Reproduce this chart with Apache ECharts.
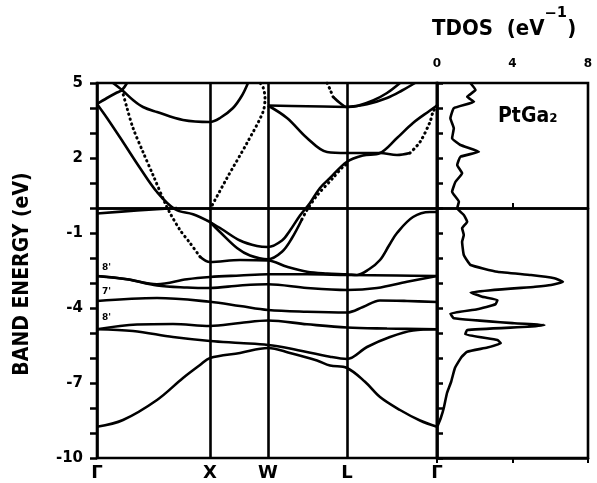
<!DOCTYPE html>
<html><head><meta charset="utf-8">
<script src="https://cdn.jsdelivr.net/npm/echarts@6/dist/echarts.min.js"></script>
<style>html,body{margin:0;padding:0;background:#fff}#c{width:597px;height:483px}</style>
</head><body><div id="c"></div>
<script>
// k-path positions and labels
const kPos = [0, 1.13, 1.71, 2.50, 3.40];
const kLabels = ['Γ', 'X', 'W', 'L', 'Γ'];
const eTicksLabeled = [-10, -7, -4, -1, 2, 5];
const dosTicks = [0, 4, 8];

// band segments [k, E(eV)]
const band1 = [[0,-8.75],[0.26,-8.48],[0.60,-7.68],[0.86,-6.8],[1.03,-6.28],[1.13,-6.0],[1.43,-5.8],[1.71,-5.6],[1.93,-5.8],[2.2,-6.1],[2.33,-6.3],[2.5,-6.4],[2.68,-6.95],[2.83,-7.56],[3.03,-8.08],[3.23,-8.5],[3.4,-8.75]];
const band2 = [[0,-4.85],[0.36,-4.92],[0.76,-5.16],[1.13,-5.32],[1.43,-5.4],[1.71,-5.48],[1.93,-5.62],[2.33,-5.95],[2.5,-6.04],[2.7,-5.56],[2.93,-5.16],[3.16,-4.9],[3.4,-4.85]];
const band3 = [[0,-4.85],[0.4,-4.66],[0.76,-4.64],[1.13,-4.72],[1.43,-4.6],[1.71,-4.5],[2.1,-4.65],[2.5,-4.78],[2.9,-4.82],[3.4,-4.85]];
const band4 = [[0,-3.72],[0.6,-3.6],[1.13,-3.75],[1.43,-3.92],[1.71,-4.08],[2.1,-4.15],[2.5,-4.18],[2.66,-3.96],[2.83,-3.7],[3.1,-3.72],[3.4,-3.76]];
const band5 = [[0,-2.72],[0.3,-2.85],[0.6,-3.1],[0.9,-3.18],[1.13,-3.2],[1.43,-3.1],[1.71,-3.05],[2.1,-3.2],[2.5,-3.28],[2.8,-3.2],[3.1,-2.95],[3.4,-2.72]];
const band6 = [[0,-2.72],[0.3,-2.85],[0.6,-3.05],[0.9,-2.85],[1.13,-2.76],[1.43,-2.7],[1.71,-2.65],[2.1,-2.65],[2.5,-2.68],[3.0,-2.7],[3.4,-2.72]];
const bandC = [[1.03,-1.95],[1.13,-2.16],[1.43,-2.08],[1.71,-2.1],[1.9,-2.35],[2.1,-2.55],[2.3,-2.62],[2.5,-2.65],[2.6,-2.68],[2.72,-2.45],[2.83,-2.08],[2.92,-1.5],[3.0,-1.0],[3.16,-0.36],[3.33,-0.16],[3.4,-0.16]];
const bandU1 = [[1.13,-0.56],[1.25,-0.85],[1.43,-1.3],[1.6,-1.52],[1.71,-1.56],[1.85,-1.3],[1.93,-0.9],[2.03,-0.3],[2.13,0.2],[2.23,0.8],[2.33,1.2],[2.5,1.85],[2.66,2.1],[2.83,2.2],[3.0,2.8],[3.16,3.4],[3.33,3.9],[3.4,4.1]];
const bandU2 = [[1.13,-0.56],[1.23,-0.96],[1.4,-1.6],[1.53,-1.9],[1.71,-2.05],[1.85,-1.75],[1.95,-1.2],[2.05,-0.45]];
const bandU2dot = [[2.05,-0.45],[2.1,-0.08],[2.2,0.5],[2.36,1.2],[2.46,1.65],[2.5,1.75]];
const bandMain = [[0,4.16],[0.1,3.6],[0.26,2.64],[0.43,1.6],[0.6,0.64],[0.78,-0.05],[0.96,-0.25],[1.13,-0.56]];
const bandG0 = [[0,-0.22],[0.4,-0.1],[0.8,0.0]];
const bandD1 = [[0.25,4.72],[0.3,4.0],[0.36,3.2],[0.46,2.24],[0.56,1.32],[0.68,0.2],[0.73,-0.2],[0.83,-0.88],[0.93,-1.4],[1.03,-1.95]];
const bandT1 = [[0,4.16],[0.1,4.4],[0.2,4.62],[0.25,4.72],[0.3,5.0]];
const bandT2 = [[0.16,5.0],[0.25,4.72],[0.36,4.32],[0.46,4.04],[0.6,3.84],[0.86,3.52],[1.13,3.44],[1.23,3.6],[1.36,4.0],[1.45,4.5],[1.51,5.0]];
const bandD2 = [[1.13,-0.05],[1.3,1.2],[1.5,2.6],[1.66,3.84],[1.68,4.4],[1.66,4.84],[1.63,5.0]];
const bandWtop = [[1.71,4.1],[2.1,4.07],[2.5,4.04]];
const bandWdesc = [[1.71,4.1],[1.9,3.6],[2.1,2.8],[2.3,2.24],[2.5,2.2],[2.83,2.2],[3.0,2.12],[3.13,2.2]];
const bandWdescDot = [[3.13,2.2],[3.23,2.64],[3.33,3.44],[3.36,3.84],[3.4,4.1]];
const bandLA = [[2.36,4.45],[2.43,4.2],[2.5,4.04],[2.6,4.08],[2.76,4.3],[2.9,4.6],[3.03,5.0]];
const bandLB = [[2.5,4.04],[2.7,4.15],[2.9,4.4],[3.05,4.7],[3.18,5.0]];
const bandLD = [[2.3,5.0],[2.33,4.75],[2.36,4.45]];

const solidBands = [band1, band2, band3, band4, band5, band6, bandC, bandU1, bandU2, bandMain, bandG0, bandT1, bandT2, bandWtop, bandWdesc, bandLA, bandLB];
const dottedBands = [bandD1, bandD2, bandU2dot, bandWdescDot, bandLD];

// total DOS [states/eV, E(eV)]
const tdos = [[1.78,4.99],[2.04,4.72],[1.6,4.45],[1.96,4.25],[0.89,3.99],[0.71,3.59],[0.89,3.19],[0.8,2.79],[1.24,2.52],[2.22,2.25],[1.24,2.05],[1.07,1.72],[1.33,1.39],[0.98,1.05],[0.8,0.65],[1.16,0.25],[1.07,-0.01],[1.42,-0.28],[1.6,-0.55],[1.33,-0.81],[1.42,-1.08],[1.33,-1.35],[1.42,-1.88],[1.78,-2.28],[3.2,-2.55],[4.98,-2.68],[6.22,-2.81],[6.67,-2.95],[6.04,-3.08],[5.2,-3.15],[1.78,-3.38],[2.4,-3.55],[3.2,-3.68],[3.1,-3.85],[2.13,-4.05],[0.71,-4.22],[0.89,-4.41],[4.09,-4.61],[5.69,-4.68],[4.8,-4.75],[1.6,-4.88],[1.5,-5.05],[3.2,-5.28],[3.38,-5.41],[2.67,-5.58],[1.6,-5.75],[1.3,-5.96],[0.95,-6.4],[0.75,-6.95],[0.53,-7.4],[0.36,-8.0],[0.2,-8.4],[0.03,-8.72]];

const FONT = 'DejaVu Sans';
const FONTC = 'DejaVu Sans Condensed';
const chart = echarts.init(document.getElementById('c'), null, {renderer:'canvas'});
const lw = 2.6;
const series = [];
solidBands.forEach((b,i)=>series.push({type:'line', xAxisIndex:0, yAxisIndex:0, data:b, showSymbol:false, smooth:0.35, lineStyle:{color:'#000', width:lw}, silent:true, z:3}));
dottedBands.forEach(b=>series.push({type:'line', xAxisIndex:0, yAxisIndex:0, data:b, showSymbol:false, smooth:0.3, lineStyle:{color:'#000', width:3, type:[0.5,4.5], cap:'round'}, silent:true, z:3}));
series[0].markLine = {silent:true, symbol:'none', label:{show:false}, animation:false,
  lineStyle:{color:'#000', width:lw, type:'solid'},
  data: kPos.slice(1,4).map(v=>({xAxis:v})).concat([{yAxis:0}])};
series.push({type:'line', xAxisIndex:1, yAxisIndex:1, data:tdos, showSymbol:false, smooth:0.12, lineStyle:{color:'#000', width:lw, join:'round'}, silent:true,
  markLine:{silent:true, symbol:'none', label:{show:false}, lineStyle:{color:'#000', width:lw, type:'solid'}, data:[{yAxis:0}]}});

const axLine = {show:true, lineStyle:{color:'#000', width:lw}};
const option = {
  animation:false,
  backgroundColor:'#fff',
  grid:[
    {left:97, top:83, width:340, height:375, show:true, borderColor:'#000', borderWidth:lw, backgroundColor:'transparent'},
    {left:437, top:83, width:151, height:375, show:true, borderColor:'#000', borderWidth:lw, backgroundColor:'transparent'}
  ],
  xAxis:[
    {type:'value', gridIndex:0, min:kPos[0], max:kPos[kPos.length-1], axisLine:axLine, axisTick:{show:false}, splitLine:{show:false},
     axisLabel:{customValues:kPos, margin:6, color:'#000', fontFamily:FONT, fontWeight:'bold', fontSize:18,
       formatter:v=>{let bi=0;kPos.forEach((p,i)=>{if(Math.abs(p-v)<Math.abs(kPos[bi]-v))bi=i;});return kLabels[bi];}}},
    {type:'value', gridIndex:1, position:'top', min:0, max:8, interval:4, axisLine:axLine,
     axisTick:{show:true, inside:false, length:5, lineStyle:{color:'#000', width:2}}, splitLine:{show:false},
     axisLabel:{margin:13, color:'#000', fontFamily:FONT, fontWeight:'bold', fontSize:12, formatter:v=>dosTicks.includes(v)?String(v):''}},
    {type:'value', gridIndex:1, position:'bottom', min:0, max:8, interval:4, axisLine:axLine,
     axisTick:{show:true, inside:false, length:5, lineStyle:{color:'#000', width:2}}, splitLine:{show:false}, axisLabel:{show:false}}
  ],
  yAxis:[
    {type:'value', gridIndex:0, min:-10, max:5, interval:1, axisLine:axLine,
     axisTick:{show:true, inside:false, length:7, lineStyle:{color:'#000', width:2.5}}, splitLine:{show:false},
     axisLabel:{margin:14, color:'#000', fontFamily:FONT, fontWeight:'bold', fontSize:15,
       formatter:v=>eTicksLabeled.includes(Math.round(v))?String(Math.round(v)):''}},
    {type:'value', gridIndex:1, position:'right', min:-10, max:5, interval:1, axisLine:axLine,
     axisTick:{show:true, inside:false, length:6, lineStyle:{color:'#000', width:2.5}}, splitLine:{show:false}, axisLabel:{show:false}}
  ],
  graphic:[
    {type:'text', left:432, top:6, style:{text:'{a|TDOS  (eV}{s|⁻¹}{a|)}',
      rich:{a:{fontFamily:FONTC, fontWeight:'bold', fontSize:22, fill:'#000', lineHeight:34, verticalAlign:'bottom'},
            s:{fontFamily:FONTC, fontWeight:'bold', fontSize:26, fill:'#000', lineHeight:34, verticalAlign:'top'}}}},
    {type:'text', x:23, y:274, rotation:Math.PI/2, style:{text:'BAND ENERGY (eV)', fill:'#000', font:'bold 21px "DejaVu Sans Condensed"', align:'center', verticalAlign:'middle'}},
    {type:'text', left:498, top:106, style:{text:'PtGa₂', fill:'#000', font:'bold 21px "DejaVu Sans Condensed"'}},
    {type:'text', left:102, top:263, style:{text:"8'", fill:'#000', font:'bold 9px "DejaVu Sans"'}},
    {type:'text', left:102, top:287, style:{text:"7'", fill:'#000', font:'bold 9px "DejaVu Sans"'}},
    {type:'text', left:102, top:313, style:{text:"8'", fill:'#000', font:'bold 9px "DejaVu Sans"'}}
  ],
  series:series
};
chart.setOption(option);
</script></body></html>
